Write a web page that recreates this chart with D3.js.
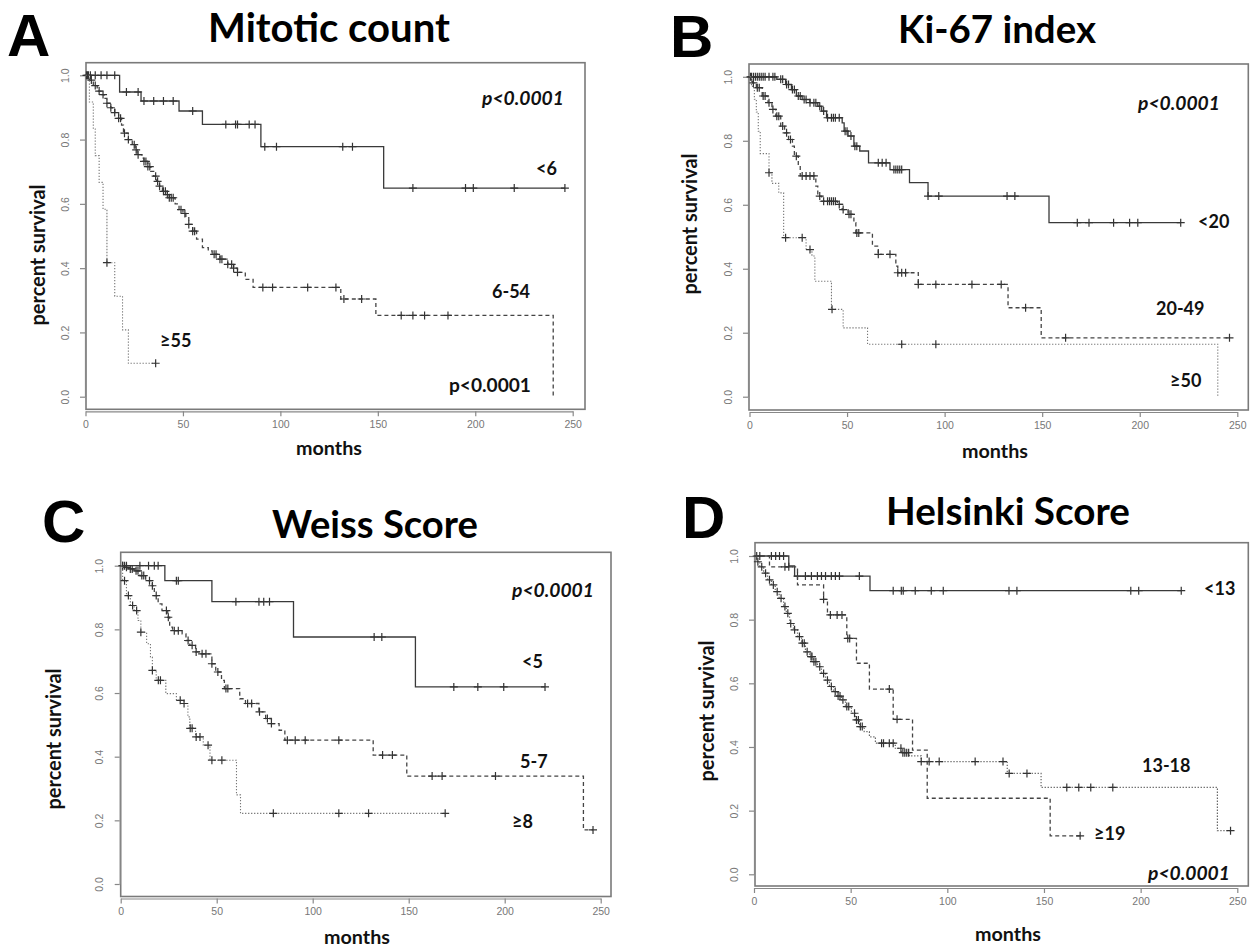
<!DOCTYPE html>
<html><head><meta charset="utf-8">
<script src="https://cdn.jsdelivr.net/npm/d3@7"></script>
<style>body{margin:0;background:#fff}svg{display:block}</style>
</head><body>
<svg id="c" width="1256" height="951"></svg>
<script>
// ---------- DATA ----------
const xTicks = [0, 50, 100, 150, 200, 250];
const yTicks = [0, 0.2, 0.4, 0.6, 0.8, 1.0];
const yTickLabels = ["0.0", "0.2", "0.4", "0.6", "0.8", "1.0"];
const panelLetters = ["A", "B", "C", "D"];
const panelTitles = ["Mitotic count", "Ki-67 index", "Weiss Score", "Helsinki Score"];
const groupLabels = [["<6", "6-54", "≥55"], ["<20", "20-49", "≥50"], ["<5", "5-7", "≥8"], ["<13", "13-18", "≥19"]];
const pText = "p<0.0001";
const xTitle = "months";
const yTitle = "percent survival";

// Panel A: Mitotic count  [time (months), survival after time]
const A1_steps = [[0,1],[17.5,0.948],[28.5,0.92],[48,0.889],[60,0.847],[90,0.778],[153,0.649]];
const A1_end = 246;
const A1_censor = [0.5,1.5,2.5,5,8,11,15,21,27,30,35,40,45,55,72,77,78,84,87,92,98,132,137,168,195,199,220,246];
const A2_steps = [[0,1],[2,0.985],[4,0.968],[6,0.951],[8,0.94],[9.5,0.928],[11,0.913],[13,0.899],[15,0.884],[17,0.866],[18.5,0.845],[19.5,0.82],[22,0.8],[24,0.784],[25.5,0.768],[26.5,0.753],[29,0.742],[30,0.732],[32,0.716],[33.5,0.701],[35,0.686],[36.5,0.67],[38,0.655],[39.5,0.639],[42,0.629],[43,0.619],[46,0.6],[48,0.582],[50,0.57],[51.5,0.557],[53,0.536],[55,0.515],[57,0.49],[60,0.464],[63,0.454],[65,0.443],[69,0.428],[73,0.412],[76,0.4],[78,0.387],[82,0.365],[86,0.34],[131,0.304],[149,0.253],[240,0]];
const A2_end = 240;
const A2_censor = [1,3,5,7,9,11,13,15,17,18,20,22,25,26,27,30,31,32,33,36,37,38,40,41,42,43,44,45,49,51,53,55,56,66,67,69,70,73,75,76,78,91,96,114,128.5,132.6,141.7,162,168,174,186];
const A3_steps = [[0,1],[2,0.917],[4,0.833],[5,0.75],[7,0.667],[9,0.583],[11,0.417],[15,0.3125],[19,0.208],[22,0.104]];
const A3_end = 36;
const A3_censor = [11, 36];

// Panel B: Ki-67 index
const B1_steps = [[0,1],[14,0.992],[18.5,0.976],[21.5,0.96],[24,0.94],[27,0.929],[31,0.919],[35,0.908],[37,0.893],[39.5,0.872],[47.5,0.856],[48.5,0.83],[50.5,0.815],[53.5,0.783],[56.5,0.768],[61,0.731],[72,0.71],[82,0.669],[91.5,0.627],[153.5,0.544]];
const B1_end = 221;
const B1_censor = [0.5,1,2,3,4,5,6,7,8,10,12,13,16,17,19,20,22,23,25,26,28,29,31,33,34,36,38,40,42,43,44,46,49,50,52,54,55,66,68,70,74,75,76,77,78,91.5,97,132,136,168,174,186.6,194.8,199,221];
const B2_steps = [[0,1],[1.5,0.981],[3.5,0.966],[6.5,0.94],[9.5,0.919],[11.5,0.898],[13.5,0.877],[16,0.846],[18,0.825],[20,0.804],[22,0.783],[23,0.752],[25,0.721],[26,0.69],[34,0.658],[35,0.627],[37,0.611],[45,0.601],[47.5,0.585],[50.5,0.57],[53.5,0.544],[54.5,0.512],[63,0.471],[66,0.445],[75,0.408],[76,0.3875],[86.5,0.351],[132.5,0.278],[149.5,0.184]];
const B2_end = 246;
const B2_censor = [2,4,5,7,8,10,12,14,15,17,19,21,24,27,29,31,33,36,38,40,41,42,43,44,46,48,51,52,55,56,66,72,76,78,80,86.5,95.5,114,129,141.5,162,246];
const B3_steps = [[0,1],[1,0.97],[2.5,0.93],[3.5,0.89],[4.5,0.83],[5.5,0.76],[10,0.7],[11.5,0.667],[15,0.637],[17.5,0.497],[29,0.46],[32,0.44],[33.5,0.361],[42,0.273],[48,0.215],[60.5,0.164],[240,0]];
const B3_end = 240;
const B3_censor = [10, 18.5, 27, 31, 42.3, 78, 95.5];

// Panel C: Weiss Score
const C1_steps = [[0,1],[23,0.953],[47.5,0.887],[90,0.776],[153.5,0.619]];
const C1_end = 221;
const C1_censor = [1,2,3,10,14.5,17.5,19.5,29,30,60,72,74.5,77.5,132,136,173.5,186,199.5,221];
const C2_steps = [[0,1],[2,0.995],[4,0.99],[7,0.984],[10,0.969],[13,0.953],[16.5,0.937],[17.5,0.906],[19.5,0.88],[21.5,0.859],[24.5,0.838],[25.5,0.807],[27,0.796],[32,0.786],[34,0.765],[36,0.75],[39,0.729],[41,0.723],[47.5,0.692],[49.5,0.666],[52.5,0.64],[54,0.614],[62,0.582],[65,0.567],[72,0.541],[75.5,0.52],[78.5,0.504],[82.5,0.483],[85.5,0.452],[131.5,0.405],[149,0.339],[241,0.17]];
const C2_end = 246;
const C2_censor = [1,3,5,6,8,9,11,12,15,16.5,18.5,23.8,24.8,27.9,30,35.1,37.2,39.3,42.4,44.4,47.5,50.6,54.8,55.8,66.1,68.2,72.3,76.4,78.5,86.8,90.9,96.1,113.6,136.4,141.5,162.2,167.4,195.2,246];
const C3_steps = [[0,1],[1,0.953],[3,0.906],[5,0.875],[7,0.859],[9,0.828],[10.5,0.791],[13.5,0.755],[15.5,0.713],[16.5,0.671],[18.5,0.64],[23.5,0.598],[29,0.577],[33,0.567],[35,0.525],[36,0.489],[39,0.462],[43,0.436],[46.5,0.389],[60.3,0.28],[62.4,0.222]];
const C3_end = 169;
const C3_censor = [2,4,6.2,8.3,10.5,16.5,19.6,20.7,31,33,36.2,37.2,39.3,41.3,45.5,47.5,52.7,79.5,113.6,129.1,169];

// Panel D: Helsinki Score
const D1_steps = [[0,1],[18,0.969],[21,0.937],[60,0.891]];
const D1_end = 221;
const D1_censor = [1.4,3,9,11.2,13.2,15.3,22.5,26.6,29.7,32.8,34.9,37,40,42.1,44.2,54.5,72,76.2,77.2,83.4,91.7,97.9,131.9,136,194.9,199,221];
const D2_steps = [[0,1],[1.4,0.982],[3,0.966],[5,0.946],[7,0.925],[9,0.909],[11,0.888],[13,0.867],[15.3,0.841],[16.7,0.82],[18.4,0.788],[20.4,0.768],[22.5,0.747],[24.6,0.726],[26.6,0.699],[28.7,0.684],[30.8,0.668],[32.8,0.652],[34.9,0.631],[37,0.61],[39,0.59],[41.1,0.574],[43,0.56],[45.2,0.548],[47.3,0.527],[50.4,0.506],[52.4,0.485],[54.5,0.464],[57,0.448],[59.7,0.432],[62.8,0.412],[73.1,0.396],[76.2,0.382],[80.3,0.372],[86.5,0.354],[131,0.317],[148.5,0.273],[239.7,0.137]];
const D2_end = 246.5;
const D2_censor = [2,4,6,8,10,12,14,16,17.5,19,21,23.5,25,26,27.5,29.5,30,31,32,34,36,38,40,42,43.5,44.5,46,48,49,52,53,54,55,56,66,67,70,72,76,77,78,79,80,86.5,90.6,95.8,114.4,128.8,132,141.2,161.8,168,174.2,185.6,246.5];
const D3_steps = [[0,1],[8,0.966],[22.5,0.909],[36,0.864],[38,0.815],[48,0.741],[53,0.663],[59.7,0.582],[72,0.487],[82,0.39],[89.6,0.239],[153.2,0.121]];
const D3_end = 168.7;
const D3_censor = [16,18,36,39.5,43,45.5,48.5,49.5,70,74,168.7];

// ---------- LAYOUT (styling / positions) ----------
const layout = [
  {fx0:86, fx1:585, fy0:62.7, fy1:409.3, tx0:85.5, tx250:572.7, ty1:75.3, ty0:396.7,
   letter:[7,56], title:[329,42,242], ylab:[38,255], xlab:[329,455],
   p:[[482,105,true],[449,392,false]], labs:[[536,175],[492,298],[160,347]]},
  {fx0:749, fx1:1248.3, fy0:64, fy1:410, tx0:749.5, tx250:1237.3, ty1:76.8, ty0:396.7,
   letter:[670,57], title:[997,43,198], ylab:[690,224], xlab:[995,458],
   p:[[1138,110,true]], labs:[[1198,228],[1156,315],[1170,387]]},
  {fx0:120.7, fx1:611, fy0:552.3, fy1:896.5, tx0:120.7, tx250:600.7, ty1:565.7, ty0:884,
   letter:[42,542], title:[375,538,206], ylab:[54,739], xlab:[357,944],
   p:[[512,597,true]], labs:[[522,668],[520,768],[512,828]]},
  {fx0:755, fx1:1248.3, fy0:542.7, fy1:886, tx0:754, tx250:1237.3, ty1:556, ty0:874.3,
   letter:[682,538], title:[1008,525,244], ylab:[707,711], xlab:[1008,941],
   p:[[1148,880,true]], labs:[[1204,595],[1142,772],[1094,840]]}
];
const series = [
  [[A1_steps,A1_end,A1_censor],[A2_steps,A2_end,A2_censor],[A3_steps,A3_end,A3_censor]],
  [[B1_steps,B1_end,B1_censor],[B2_steps,B2_end,B2_censor],[B3_steps,B3_end,B3_censor]],
  [[C1_steps,C1_end,C1_censor],[C2_steps,C2_end,C2_censor],[C3_steps,C3_end,C3_censor]],
  [[D1_steps,D1_end,D1_censor],[D2_steps,D2_end,D2_censor],[D3_steps,D3_end,D3_censor]]
];
const styleA = [{dash:null,col:"#3a3a3a",w:1.3},{dash:"4,3",col:"#444",w:1.3},{dash:"1.3,1.7",col:"#777",w:1.1}];
const styleD = [{dash:null,col:"#3a3a3a",w:1.3},{dash:"1.3,1.7",col:"#666",w:1.2},{dash:"4,3",col:"#444",w:1.3}];

const FONT = "Lato, 'Open Sans', sans-serif";
const svg = d3.select("#c");

function fit(t, w){
  const L = t.node().getComputedTextLength();
  const fs = parseFloat(t.attr("font-size"));
  if (L > 0) t.attr("font-size", fs * w / L);
}

layout.forEach((L, pi) => {
  const g = svg.append("g");
  const x = d3.scaleLinear().domain([0, 250]).range([L.tx0, L.tx250]);
  const y = d3.scaleLinear().domain([0, 1]).range([L.ty0, L.ty1]);

  g.append("rect").attr("x", L.fx0).attr("y", L.fy0)
    .attr("width", L.fx1 - L.fx0).attr("height", L.fy1 - L.fy0)
    .attr("fill", "none").attr("stroke", "#7a7a7a").attr("stroke-width", 1.6);

  const gx = g.append("g").attr("transform", `translate(0,${L.fy1 + 2})`)
    .call(d3.axisBottom(x).tickValues(xTicks).tickSize(5).tickSizeOuter(0).tickPadding(4));
  gx.select(".domain").attr("stroke", "#888").attr("stroke-width", 1.2);
  gx.selectAll(".tick line").attr("stroke", "#888").attr("stroke-width", 1.2);
  gx.selectAll("text").attr("font-family", "'Liberation Sans', Arial, sans-serif")
    .attr("font-size", 10.5).attr("fill", "#777").attr("dy", "0.72em");

  const gy = g.append("g").attr("transform", `translate(${L.fx0 - 1},0)`)
    .call(d3.axisLeft(y).tickValues(yTicks).tickFormat((d, i) => yTickLabels[i]).tickSize(5).tickSizeOuter(0));
  gy.select(".domain").attr("stroke", "#888").attr("stroke-width", 1.2);
  gy.selectAll(".tick line").attr("stroke", "#888").attr("stroke-width", 1.2);
  gy.selectAll("text").attr("font-family", "'Liberation Sans', Arial, sans-serif")
    .attr("font-size", 10.5).attr("fill", "#777")
    .attr("transform", "rotate(-90)").attr("x", 0).attr("y", -16.5).attr("dy", 0)
    .attr("text-anchor", "middle");

  const styles = pi === 3 ? styleD : styleA;
  const line = d3.line().x(d => x(d[0])).y(d => y(d[1])).curve(d3.curveStepAfter);
  series[pi].forEach(([steps, end, censor], si) => {
    const st = styles[si];
    const pts = steps.concat([[end, steps[steps.length - 1][1]]]);
    g.append("path").attr("d", line(pts)).attr("fill", "none")
      .attr("stroke", st.col).attr("stroke-width", st.w)
      .attr("stroke-dasharray", st.dash);
    const times = steps.map(d => d[0]);
    const S = t => steps[Math.max(0, d3.bisectRight(times, t) - 1)][1];
    const m = 4;
    g.append("g").selectAll("path").data(censor).join("path")
      .attr("d", t => {
        const cx = x(t), cy = y(S(t));
        return `M${cx - m},${cy}H${cx + m}M${cx},${cy - m}V${cy + m}`;
      })
      .attr("stroke", "#333").attr("stroke-width", 1.2).attr("fill", "none");
  });

  g.append("text").attr("x", L.letter[0]).attr("y", L.letter[1])
    .attr("font-family", "'Liberation Sans', Arial, sans-serif").attr("font-weight", 700).attr("font-size", 60)
    .attr("fill", "#000").text(panelLetters[pi]);

  const tt = g.append("text").attr("x", L.title[0]).attr("y", L.title[1])
    .attr("text-anchor", "middle").attr("font-family", FONT).attr("font-weight", 700)
    .attr("font-size", 38).attr("fill", "#000").text(panelTitles[pi]);
  fit(tt, L.title[2]);

  const yt = g.append("text").attr("transform", `translate(${L.ylab[0]},${L.ylab[1]}) rotate(-90)`)
    .attr("text-anchor", "middle").attr("dy", "0.35em").attr("font-family", FONT)
    .attr("font-weight", 700).attr("font-size", 17).attr("fill", "#111").text(yTitle);
  fit(yt, 141);
  const xt = g.append("text").attr("x", L.xlab[0]).attr("y", L.xlab[1])
    .attr("text-anchor", "middle").attr("font-family", FONT)
    .attr("font-weight", 700).attr("font-size", 17).attr("fill", "#111").text(xTitle);
  fit(xt, 66);

  L.p.forEach(([px, py, it]) => {
    const t = g.append("text").attr("x", px).attr("y", py).attr("font-family", FONT)
      .attr("font-weight", 700).attr("font-style", it ? "italic" : "normal")
      .attr("font-size", 18).attr("fill", "#111").text(pText);
    fit(t, 82);
  });

  groupLabels[pi].forEach((lab, i) => {
    g.append("text").attr("x", L.labs[i][0]).attr("y", L.labs[i][1]).attr("font-family", FONT)
      .attr("font-weight", 700).attr("font-size", 18).attr("fill", "#111").text(lab);
  });
});
</script>
</body></html>
